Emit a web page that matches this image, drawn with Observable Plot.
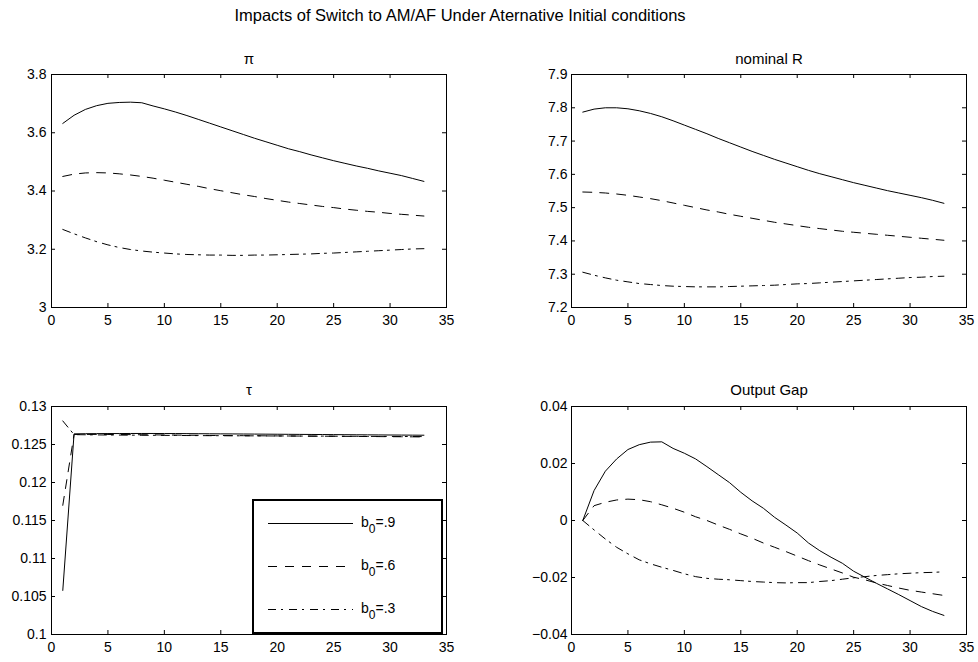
<!DOCTYPE html>
<html><head><meta charset="utf-8">
<script src="https://cdn.jsdelivr.net/npm/d3@7"></script>
<script src="https://cdn.jsdelivr.net/npm/@observablehq/plot@0.6"></script>
<style>
body{margin:0;background:#fff}
#wrap{position:relative;width:978px;height:662px;font-family:"Liberation Sans",Arial,sans-serif;color:#000;overflow:hidden}
#title{position:absolute;left:0;width:920px;top:6px;text-align:center;font-size:16.5px;line-height:19px}
.panel{position:absolute}
#legend{position:absolute;left:252px;top:499px;width:187px;height:131px;border:2px solid #000;background:#fff}
</style></head>
<body><div id="wrap"><div id="title">Impacts of Switch to AM/AF Under Aternative Initial conditions</div></div>
<script>
// ---------------- data ----------------
const periods = d3.range(1, 34);
const seriesNames = ["b0=.9", "b0=.6", "b0=.3"];
const xTicks = [0, 5, 10, 15, 20, 25, 30, 35];

const piB9 = [3.632,3.660,3.680,3.693,3.701,3.704,3.705,3.703,3.692,3.682,3.671,3.659,3.646,3.633,3.620,3.607,3.594,3.581,3.569,3.557,3.545,3.535,3.524,3.514,3.504,3.495,3.486,3.478,3.469,3.461,3.453,3.443,3.433];
const piB6 = [3.450,3.458,3.462,3.463,3.462,3.459,3.455,3.450,3.444,3.437,3.430,3.423,3.416,3.408,3.401,3.394,3.387,3.381,3.374,3.368,3.362,3.357,3.352,3.347,3.343,3.338,3.334,3.330,3.327,3.323,3.320,3.317,3.314];
const piB3 = [3.268,3.253,3.239,3.226,3.215,3.206,3.199,3.194,3.190,3.187,3.184,3.182,3.181,3.180,3.180,3.179,3.179,3.180,3.180,3.181,3.182,3.183,3.184,3.186,3.187,3.189,3.191,3.193,3.195,3.197,3.199,3.201,3.202];
const piTicks = [3, 3.2, 3.4, 3.6, 3.8];
const piTickLabels = ["3", "3.2", "3.4", "3.6", "3.8"];

const rB9 = [7.787,7.796,7.800,7.800,7.797,7.791,7.783,7.773,7.761,7.748,7.735,7.722,7.708,7.695,7.682,7.669,7.657,7.645,7.634,7.623,7.612,7.602,7.593,7.584,7.575,7.567,7.559,7.551,7.544,7.537,7.530,7.522,7.513];
const rB6 = [7.547,7.546,7.544,7.541,7.537,7.532,7.527,7.521,7.514,7.507,7.500,7.493,7.487,7.480,7.474,7.468,7.462,7.456,7.451,7.446,7.441,7.437,7.433,7.429,7.426,7.423,7.420,7.417,7.414,7.411,7.408,7.405,7.402];
const rB3 = [7.306,7.297,7.289,7.282,7.277,7.272,7.269,7.266,7.264,7.263,7.262,7.262,7.262,7.263,7.264,7.265,7.266,7.267,7.269,7.271,7.272,7.274,7.276,7.278,7.280,7.282,7.284,7.286,7.288,7.290,7.291,7.293,7.294];
const rTicks = [7.2, 7.3, 7.4, 7.5, 7.6, 7.7, 7.8, 7.9];
const rTickLabels = ["7.2", "7.3", "7.4", "7.5", "7.6", "7.7", "7.8", "7.9"];

const tauB9 = [0.1058,0.12640,0.12642,0.12643,0.12644,0.12644,0.12645,0.12645,0.12645,0.12644,0.12644,0.12643,0.12642,0.12641,0.12640,0.12639,0.12638,0.12637,0.12636,0.12635,0.12634,0.12633,0.12632,0.12631,0.12630,0.12629,0.12628,0.12627,0.12626,0.12625,0.12624,0.12623,0.12622];
const tauB6 = [0.1170,0.12632,0.12633,0.12633,0.12632,0.12631,0.12630,0.12628,0.12627,0.12625,0.12624,0.12622,0.12621,0.12619,0.12618,0.12617,0.12616,0.12615,0.12614,0.12613,0.12612,0.12611,0.12610,0.12609,0.12608,0.12607,0.12606,0.12605,0.12604,0.12603,0.12602,0.12601,0.12600];
const tauB3 = [0.1281,0.12630,0.12628,0.12626,0.12625,0.12624,0.12623,0.12622,0.12621,0.12620,0.12619,0.12618,0.12617,0.12616,0.12616,0.12615,0.12614,0.12614,0.12613,0.12612,0.12612,0.12611,0.12610,0.12610,0.12609,0.12608,0.12608,0.12607,0.12606,0.12606,0.12605,0.12605,0.12604];
const tauTicks = [0.1, 0.105, 0.11, 0.115, 0.12, 0.125, 0.13];
const tauTickLabels = ["0.1", "0.105", "0.11", "0.115", "0.12", "0.125", "0.13"];

const gapB9 = [0,0.0105,0.0173,0.0216,0.0249,0.0266,0.0275,0.0276,0.0253,0.0236,0.0216,0.0189,0.0161,0.0133,0.0099,0.0069,0.0043,0.0011,-0.0016,-0.0044,-0.0079,-0.0106,-0.0129,-0.0150,-0.0178,-0.0199,-0.0220,-0.0240,-0.0260,-0.0281,-0.0302,-0.0319,-0.0333];
const gapB6 = [0,0.0052,0.0064,0.0072,0.0075,0.0073,0.0066,0.0055,0.0043,0.0029,0.0013,0.0000,-0.0016,-0.0031,-0.0047,-0.0062,-0.0079,-0.0094,-0.0109,-0.0125,-0.0141,-0.0156,-0.0170,-0.0184,-0.0199,-0.0208,-0.0219,-0.0228,-0.0237,-0.0245,-0.0251,-0.0257,-0.0263];
const gapB3 = [0,-0.0033,-0.0065,-0.0094,-0.0117,-0.0138,-0.0152,-0.0164,-0.0175,-0.0187,-0.0197,-0.0203,-0.0206,-0.0208,-0.0211,-0.0214,-0.0216,-0.0218,-0.0219,-0.0218,-0.0218,-0.0214,-0.0211,-0.0206,-0.0201,-0.0197,-0.0193,-0.0190,-0.0187,-0.0185,-0.0183,-0.0182,-0.0180];
const gapTicks = [-0.04, -0.02, 0, 0.02, 0.04];
const gapTickLabels = ["\u22120.04", "\u22120.02", "0", "0.02", "0.04"];

// ---------------- drawing ----------------
const dashes = [null, "9,8", "8,5,2,6"];
const wrap = document.getElementById("wrap");

function panel({title, series, yDomain, yTicks, yLabels, left, top, width, height, mL, mR, mT, mB, titleDy, yPad}) {
  const fw = width - mL - mR, fh = height - mT - mB, tl = 4;
  const marks = [];
  series.forEach((vals, i) => {
    const rows = periods.map((t, j) => ({t, v: vals[j]}));
    marks.push(Plot.line(rows, {x: "t", y: "v", stroke: "black", strokeWidth: 1, strokeDasharray: dashes[i] || undefined}));
  });
  marks.push(
    Plot.frame({stroke: "black", strokeWidth: 1}),
    Plot.tickY(yTicks, {y: d => d, stroke: "black", insetRight: fw - tl}),
    Plot.tickY(yTicks, {y: d => d, stroke: "black", insetLeft: fw - tl}),
    Plot.tickX(xTicks, {x: d => d, stroke: "black", insetTop: fh - tl}),
    Plot.tickX(xTicks, {x: d => d, stroke: "black", insetBottom: fh - tl}),
    Plot.axisX({ticks: xTicks, tickSize: 0, tickPadding: 8, label: null, tickFormat: d => String(d)}),
    Plot.axisY({ticks: yTicks, tickSize: 0, tickPadding: yPad, label: null, tickFormat: (d) => yLabels[yTicks.indexOf(d)]}),
    Plot.text([title], {frameAnchor: "top", dy: titleDy, text: d => d, fill: "black", fontSize: 15})
  );
  const svg = Plot.plot({
    width, height, marginLeft: mL, marginRight: mR, marginTop: mT, marginBottom: mB,
    x: {domain: [0, 35], label: null},
    y: {domain: yDomain, label: null},
    style: {fontFamily: "Liberation Sans, Arial, sans-serif", fontSize: "14px", color: "black", background: "transparent", overflow: "visible"},
    marks
  });
  const d = document.createElement("div");
  d.className = "panel";
  d.style.left = left + "px"; d.style.top = top + "px";
  d.appendChild(svg);
  wrap.appendChild(d);
}

panel({title: "\u03c0", series: [piB9, piB6, piB3], yDomain: [3, 3.8], yTicks: piTicks, yLabels: piTickLabels,
  left: 0, top: 40, width: 489, height: 300, mL: 51, mR: 43, mT: 34, mB: 33, titleDy: -21, yPad: 5});
panel({title: "nominal R", series: [rB9, rB6, rB3], yDomain: [7.2, 7.9], yTicks: rTicks, yLabels: rTickLabels,
  left: 489, top: 40, width: 489, height: 300, mL: 82, mR: 12, mT: 34, mB: 33, titleDy: -21, yPad: 4});
panel({title: "\u03c4", series: [tauB9, tauB6, tauB3], yDomain: [0.1, 0.13], yTicks: tauTicks, yLabels: tauTickLabels,
  left: 0, top: 370, width: 489, height: 292, mL: 51, mR: 43, mT: 36, mB: 28, titleDy: -22, yPad: 5});
panel({title: "Output Gap", series: [gapB9, gapB6, gapB3], yDomain: [-0.04, 0.04], yTicks: gapTicks, yLabels: gapTickLabels,
  left: 489, top: 370, width: 489, height: 292, mL: 82, mR: 12, mT: 36, mB: 28, titleDy: -22, yPad: 4});

// legend
const leg = document.createElement("div");
leg.id = "legend";
const ns = "http://www.w3.org/2000/svg";
const ls = document.createElementNS(ns, "svg");
ls.setAttribute("width", 187); ls.setAttribute("height", 131);
seriesNames.forEach((name, i) => {
  const y = 22.5 + i * 43;
  const ln = document.createElementNS(ns, "line");
  ln.setAttribute("x1", 14); ln.setAttribute("x2", 99); ln.setAttribute("y1", y); ln.setAttribute("y2", y);
  ln.setAttribute("stroke", "black"); ln.setAttribute("stroke-width", 1);
  if (dashes[i]) ln.setAttribute("stroke-dasharray", dashes[i]);
  ls.appendChild(ln);
  const tx = document.createElementNS(ns, "text");
  tx.setAttribute("x", 107); tx.setAttribute("y", y + 3);
  tx.setAttribute("font-size", 14); tx.setAttribute("font-family", "Liberation Sans, Arial, sans-serif");
  const t1 = document.createElementNS(ns, "tspan"); t1.textContent = name.slice(0, 1);
  const t2 = document.createElementNS(ns, "tspan"); t2.textContent = name.slice(1, 2); t2.setAttribute("dy", 6); t2.setAttribute("font-size", 12);
  const t3 = document.createElementNS(ns, "tspan"); t3.textContent = name.slice(2); t3.setAttribute("dy", -6);
  tx.appendChild(t1); tx.appendChild(t2); tx.appendChild(t3);
  ls.appendChild(tx);
});
leg.appendChild(ls);
wrap.appendChild(leg);
</script>
</body></html>
